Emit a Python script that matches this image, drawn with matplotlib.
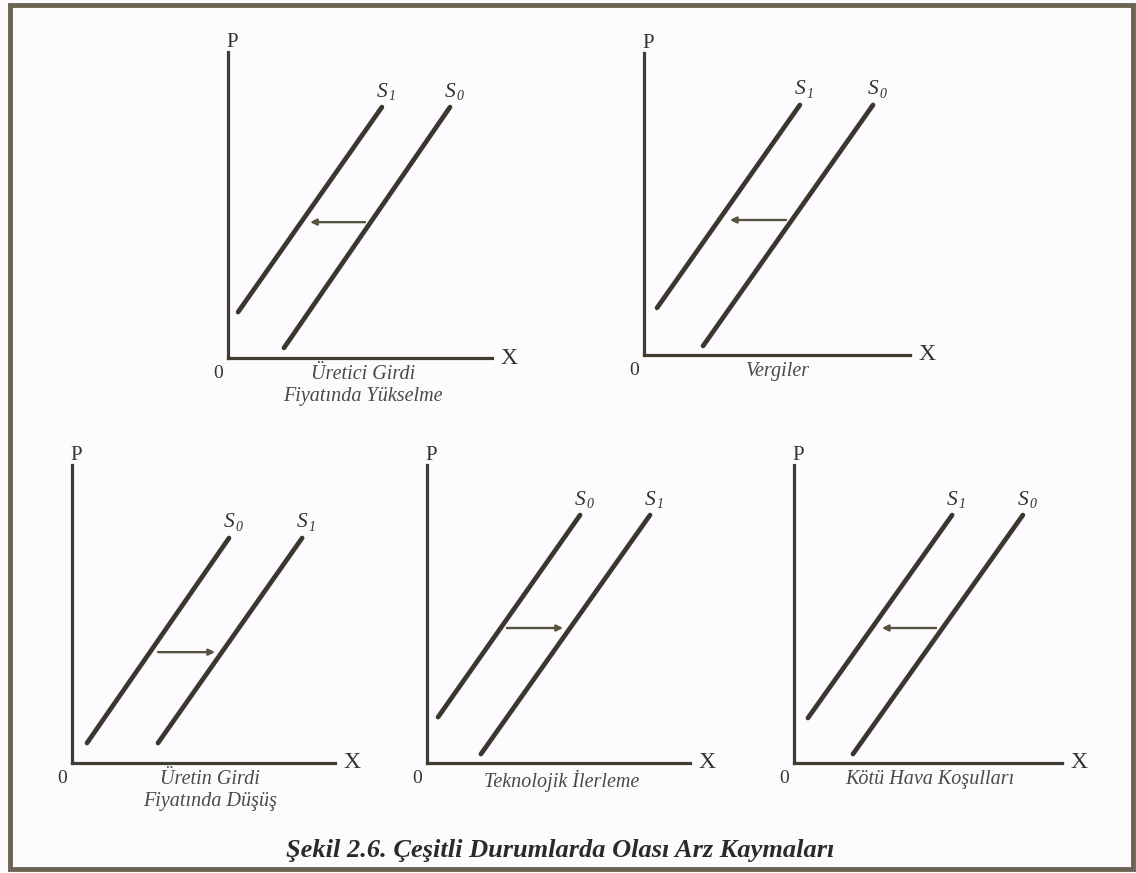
import matplotlib
matplotlib.use("Agg")
import matplotlib.pyplot as plt
from matplotlib.patches import Rectangle

plt.rcParams['font.family'] = ['Liberation Serif', 'DejaVu Serif']

W, H = 1136, 873

# ---- data (per panel, in 0-10 axis units) ----
captions = ["Üretici Girdi\nFiyatında Yükselme", "Vergiler",
            "Üretin Girdi\nFiyatında Düşüş", "Teknolojik İlerleme",
            "Kötü Hava Koşulları"]
left_labels = ["1", "1", "0", "0", "1"]     # subscript of the left curve
right_labels = ["0", "0", "1", "1", "0"]    # subscript of the right curve
left_x = [[0.38, 5.83], [0.49, 5.86], [0.57, 5.97], [0.42, 5.82], [0.52, 5.90]]
left_y = [[1.50, 8.20], [1.56, 8.28], [0.67, 7.55], [1.54, 8.32], [1.51, 8.32]]
right_x = [[2.12, 8.41], [2.22, 8.61], [3.27, 8.75], [2.05, 8.48], [2.20, 8.54]]
right_y = [[0.33, 8.20], [0.30, 8.28], [0.67, 7.55], [0.30, 8.32], [0.30, 8.32]]
arrow_y = [4.44, 4.47, 3.72, 4.53, 4.53]
arrow_from = [5.19, 5.34, 3.27, 3.04, 5.30]
arrow_to = [3.11, 3.23, 5.44, 5.17, 3.28]
title = "Şekil 2.6. Çeşitli Durumlarda Olası Arz Kaymaları"

# ---- layout (pixel boxes: left, right, top, bottom) ----
boxes = [(228, 492, 52, 358), (644, 910, 53, 355),
         (72, 335, 465, 763), (427, 690, 465, 763), (794, 1062, 465, 763)]
caption_x = [363, 778, 210, 562, 930]

fig = plt.figure(figsize=(W / 100, H / 100), dpi=100)
fig.patch.set_facecolor('#fdfbfd')

# frame
fig.patches.append(Rectangle((9.5 / W, 1 - 869 / H), (1133 - 9.5) / W, (869 - 4.5) / H,
                             transform=fig.transFigure, fill=False,
                             edgecolor='#6b6353', linewidth=3.5))

curve_c = '#3a382e'
axis_c = '#3f3d32'
arrow_c = '#55553f'
txt_c = '#333333'
cap_c = '#4a4a4a'

for i, (l, r, t, b) in enumerate(boxes):
    ax = fig.add_axes([l / W, 1 - b / H, (r - l) / W, (b - t) / H])
    ax.set_xlim(0, 10)
    ax.set_ylim(0, 10)
    ax.patch.set_alpha(0)
    for s in ('top', 'right'):
        ax.spines[s].set_visible(False)
    for s in ('left', 'bottom'):
        ax.spines[s].set_color(axis_c)
        ax.spines[s].set_linewidth(2.3)
    ax.set_xticks([])
    ax.set_yticks([])

    ax.plot(left_x[i], left_y[i], color=curve_c, lw=3.4, solid_capstyle='round')
    ax.plot(right_x[i], right_y[i], color=curve_c, lw=3.4, solid_capstyle='round')

    ax.annotate('', xy=(arrow_to[i], arrow_y[i]), xytext=(arrow_from[i], arrow_y[i]),
                arrowprops=dict(arrowstyle='-|>', color=arrow_c, lw=1.7,
                                mutation_scale=9, shrinkA=0, shrinkB=0))

    for xs, ys, sub in ((left_x[i], left_y[i], left_labels[i]),
                        (right_x[i], right_y[i], right_labels[i])):
        ax.annotate('S', xy=(xs[1], ys[1]), xytext=(0, 4), textcoords='offset points',
                    ha='center', va='bottom', fontsize=15.5, style='italic', color=txt_c)
        ax.annotate(sub, xy=(xs[1], ys[1]), xytext=(4.5, 3), textcoords='offset points',
                    ha='left', va='bottom', fontsize=10, style='italic', color=txt_c)

    ax.annotate('P', xy=(0, 1), xycoords='axes fraction', xytext=(3, 0),
                textcoords='offset points', ha='center', va='bottom',
                fontsize=15, color=txt_c)
    ax.annotate('X', xy=(1, 0), xycoords='axes fraction', xytext=(6, 0),
                textcoords='offset points', ha='left', va='center',
                fontsize=17, color=txt_c)
    ax.annotate('0', xy=(0, 0), xycoords='axes fraction', xytext=(-7, -5),
                textcoords='offset points', ha='center', va='top',
                fontsize=14, color=txt_c)

    cx = (caption_x[i] - l) / (r - l)
    ax.annotate(captions[i], xy=(cx, 0), xycoords='axes fraction', xytext=(0, -5),
                textcoords='offset points', ha='center', va='top',
                fontsize=14.5, style='italic', color=cap_c, linespacing=1.25)

fig.text(560 / W, 1 - 851 / H, title, ha='center', va='center',
         fontsize=19, fontweight='bold', style='italic', color='#2a2a2a')

fig.savefig('out.png', dpi=100, facecolor=fig.get_facecolor())
